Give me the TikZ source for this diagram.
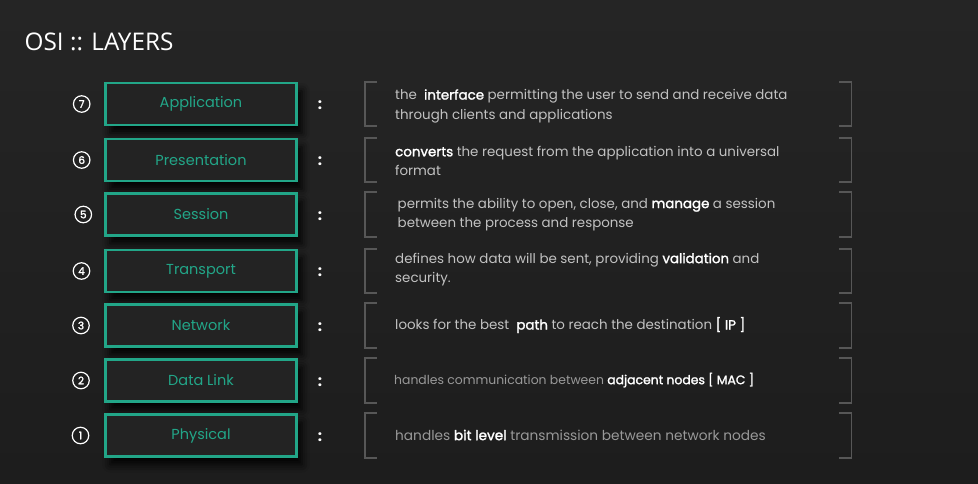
\documentclass[tikz,border=0pt]{standalone}
\usepackage{fontspec}
\setmainfont{Poppins}
\newfontfamily\titlefont{Open Sans}
\newfontfamily\kwfont[FakeBold=1.7]{Poppins}
\usetikzlibrary{shadows.blur}

\definecolor{bgtop}{HTML}{252525}
\definecolor{bgbottom}{HTML}{1D1D1D}
\definecolor{boxfill}{HTML}{232323}
\definecolor{osigreen}{HTML}{22A688}
\definecolor{desctext}{HTML}{C2C2C2}
\definecolor{descdim}{HTML}{999999}
\definecolor{bracketgray}{HTML}{575757}

\tikzset{
  layerbox/.style={draw=osigreen, fill=boxfill, line width=2.6pt, minimum width=191.4pt,
    minimum height=42pt, inner sep=0pt, text=osigreen,
    font=\fontsize{14.5}{17}\selectfont,
    blur shadow={shadow xshift=5pt, shadow yshift=-8pt,
      shadow blur radius=8pt, shadow opacity=95}},
  layernum/.style={circle, draw=white!88, line width=1.2pt, minimum size=16.5pt,
    inner sep=0pt, text=white, font=\fontsize{10.5}{11}\selectfont\kwfont},
  sepcolon/.style={text=white, inner sep=0pt, font=\fontsize{15}{16}\selectfont\bfseries},
  bracketline/.style={draw=bracketgray, line width=1.2pt},
  desc/.style={anchor=west, align=left, inner sep=0pt, text=desctext,
    font=\fontsize{13.4}{19.5}\selectfont}
}
\newcommand{\keyword}[1]{{\color{white}\kwfont #1}}

\begin{document}
\begin{tikzpicture}[x=1pt, y=-1pt]
  % background
  \shade[top color=bgtop, bottom color=bgbottom] (0,0) rectangle (978,483);
  \useasboundingbox (0,0) rectangle (978,483);

  % title
  \node[anchor=west, inner sep=0pt, text=white!93,
        font=\titlefont\fontsize{24.3}{30}\selectfont] (title) at (24.5,42) {OSI :: LAYERS};

  % layer boxes, numbers, separators and brackets
  \foreach \yc/\top/\bot/\n/\lbl/\nx in {
      104/82/126/7/Application/81.7,
      160/138/182/6/Presentation/81.7,
      214.5/192/237/5/Session/83.3,
      271/249/293/4/Transport/81.5,
      325.5/303/348/3/Network/81,
      380.5/358/403/2/Data Link/81,
      435.5/413/458/1/Physical/80.5}{
    \node[layerbox] (box\n) at (201,\yc) {\lbl};
    \node[layernum] (num\n) at (\nx,\yc) {\n};
    \node[sepcolon] (colon\n) at (320,\yc+1.5) {:};
    \draw[bracketline] (376.5,\top) -- (365,\top) -- (365,\bot) -- (376.5,\bot);
    \draw[bracketline] (839,\top) -- (851.5,\top) -- (851.5,\bot) -- (839,\bot);
  }

  % descriptions
  \node[desc] (d7) at (395,106)
    {the \ \keyword{interface} permitting the user to send and receive data\\through clients and applications};
  \node[desc] (d6) at (395,161)
    {\keyword{converts} the request from the application into a universal\\format};
  \node[desc] (d5) at (397.5,214.5)
    {permits the ability to open, close, and \keyword{manage} a session\\between the process and response};
  \node[desc] (d4) at (395,269.5)
    {defines how data will be sent, providing \keyword{validation} and\\security.};
  \node[desc] (d3) at (395,325)
    {looks for the best \ \keyword{path} to reach the destination \keyword{[ IP ]}};
  \node[desc, text=descdim, font=\fontsize{12.4}{18}\selectfont] (d2) at (394,380)
    {handles communication between \keyword{adjacent nodes [ MAC ]}};
  \node[desc, text=descdim, font=\fontsize{13.7}{19}\selectfont] (d1) at (395,435)
    {handles \keyword{bit level} transmission between network nodes};
\end{tikzpicture}
\end{document}
